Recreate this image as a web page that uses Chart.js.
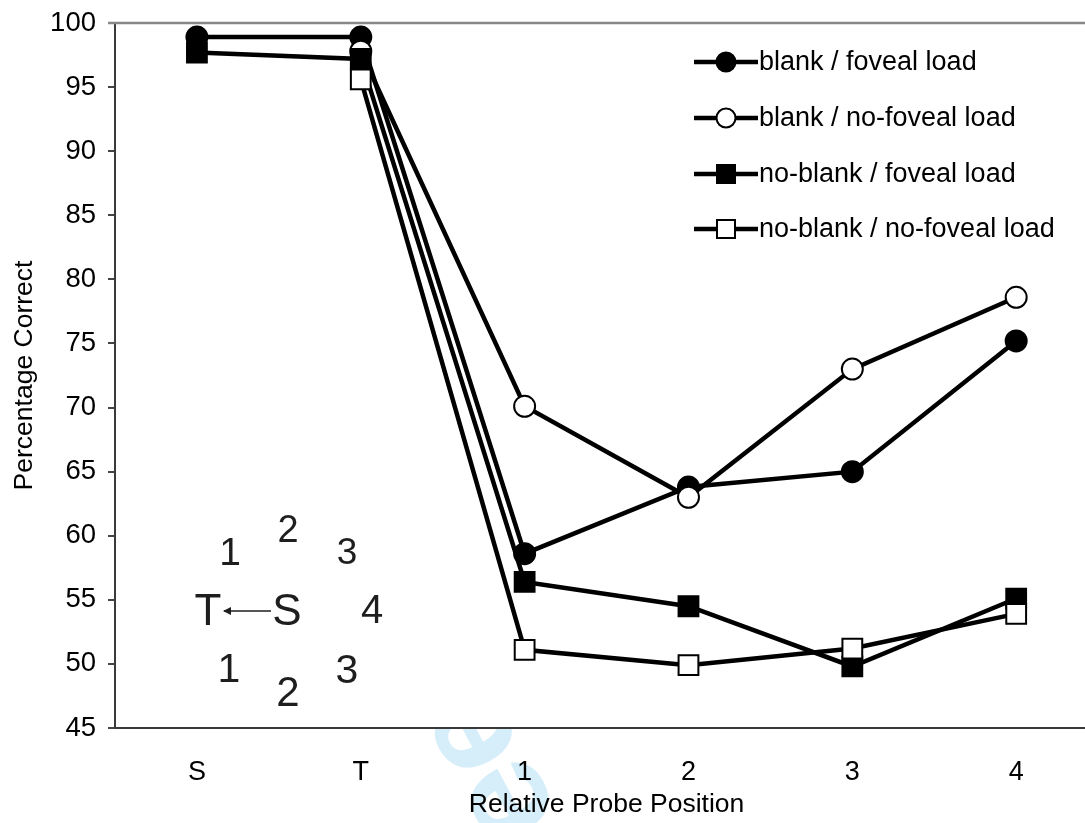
<!DOCTYPE html>
<html>
<head>
<meta charset="utf-8">
<style>
html,body{margin:0;padding:0;overflow:hidden;background:#fff;}
#wrap{width:1085px;height:823px;position:relative;}
#c{width:1085px;height:823px;display:block;}
</style>
<script src="https://cdn.jsdelivr.net/npm/chart.js@4.4.0/dist/chart.umd.min.js"></script>
</head>
<body>
<div id="wrap"><canvas id="c" width="1085" height="823"></canvas></div>
<script>
// ---- data ----
const categories = ['S', 'T', '1', '2', '3', '4'];
const seriesNames = ['blank / foveal load', 'blank / no-foveal load', 'no-blank / foveal load', 'no-blank / no-foveal load'];
const blankFoveal      = [98.9, 98.9, 58.6, 63.8, 65.0, 75.2];
const blankNoFoveal    = [null, 97.8, 70.1, 63.0, 73.0, 78.6];
const noBlankFoveal    = [97.7, 97.2, 56.4, 54.5, 49.8, 55.1];
const noBlankNoFoveal  = [null, 95.6, 51.1, 49.9, 51.2, 53.9];
const yMin = 45, yMax = 100, yStep = 5;
// the original plot area is cut off at the right edge: visible x range in category units
const xMin = -0.5, xMax = 5.42;
const xTitle = 'Relative Probe Position';
const yTitle = 'Percentage Correct';
// inset diagram labels
const insetLabels = [
  {t:'1', x:230, y:553, s:39}, {t:'2', x:288, y:531, s:38}, {t:'3', x:347, y:553, s:37},
  {t:'T', x:208, y:612, s:44}, {t:'S', x:287, y:612, s:44}, {t:'4', x:372, y:611, s:40},
  {t:'1', x:229, y:670, s:41}, {t:'2', x:288, y:693, s:42}, {t:'3', x:347, y:671, s:41}
];

const FONT = 'Liberation Sans, Arial, sans-serif';

function toPoints(arr) { return categories.map((c, i) => ({ x: i, y: arr[i] })); }

function ds(label, data, style, filled, order) {
  const r = style === 'circle' ? 10.5 : 14;
  return {
    label, data: toPoints(data), order,
    borderColor: '#000', borderWidth: 4.5,
    pointStyle: style, pointRadius: r, pointHoverRadius: r,
    pointBackgroundColor: filled ? '#000' : '#fff',
    pointBorderColor: '#000', pointBorderWidth: 2,
    tension: 0, spanGaps: false, fill: false
  };
}

const legendPlugin = {
  id: 'customLegend',
  afterDraw(chart) {
    const ctx = chart.ctx;
    const rows = [62, 118, 174, 229];
    ctx.save();
    chart.data.datasets.forEach((d, i) => {
      const y = rows[i];
      ctx.strokeStyle = '#000'; ctx.lineWidth = 4.5;
      ctx.beginPath(); ctx.moveTo(694, y); ctx.lineTo(758, y); ctx.stroke();
      ctx.fillStyle = d.pointBackgroundColor; ctx.lineWidth = 2; ctx.strokeStyle = '#000';
      if (d.pointStyle === 'circle') {
        ctx.beginPath(); ctx.arc(726, y, 9.5, 0, Math.PI * 2); ctx.fill(); ctx.stroke();
      } else {
        ctx.beginPath(); ctx.rect(717, y - 9, 18, 18); ctx.fill(); ctx.stroke();
      }
      ctx.fillStyle = '#000'; ctx.font = '27px ' + FONT;
      ctx.textAlign = 'left'; ctx.textBaseline = 'middle';
      ctx.fillText(d.label, 759, y + 1);
    });
    ctx.restore();
  }
};

const decorPlugin = {
  id: 'decor',
  beforeDraw(chart) {
    const ctx = chart.ctx;
    const a = chart.chartArea;
    ctx.save();
    ctx.fillStyle = '#fff'; ctx.fillRect(0, 0, chart.width, chart.height);
    // faint watermark, visible only below the plot area
    ctx.beginPath(); ctx.rect(0, a.bottom + 1, chart.width, chart.height - a.bottom); ctx.clip();
    ctx.fillStyle = '#d5eefa';
    ctx.font = 'bold 140px ' + FONT;
    ctx.translate(605, 900);
    ctx.rotate(-2.06);
    ctx.textBaseline = 'alphabetic';
    ctx.fillText('Pee', 0, 0);
    ctx.restore();
  },
  beforeDatasetsDraw(chart) {
    const ctx = chart.ctx;
    const a = chart.chartArea;
    ctx.save();
    ctx.fillStyle = '#1e1e1e';
    ctx.textAlign = 'center'; ctx.textBaseline = 'middle';
    insetLabels.forEach(l => { ctx.font = l.s + 'px ' + FONT; ctx.fillText(l.t, l.x, l.y + 1); });
    // arrow S -> T
    ctx.strokeStyle = '#1e1e1e'; ctx.lineWidth = 1.6;
    ctx.beginPath(); ctx.moveTo(271, 611); ctx.lineTo(224, 611); ctx.stroke();
    ctx.beginPath(); ctx.moveTo(223, 611); ctx.lineTo(231, 607); ctx.lineTo(231, 615); ctx.closePath();
    ctx.fillStyle = '#1e1e1e'; ctx.fill();
    // top frame line
    ctx.strokeStyle = '#888'; ctx.lineWidth = 2.5;
    ctx.beginPath(); ctx.moveTo(108, a.top); ctx.lineTo(chart.width, a.top); ctx.stroke();
    // x-axis title, centred on the full (uncropped) plot width
    const xs = chart.scales.x;
    const cx = (xs.getPixelForValue(-0.5) + xs.getPixelForValue(categories.length - 0.5)) / 2;
    ctx.fillStyle = '#000'; ctx.font = '26.5px ' + FONT;
    ctx.textAlign = 'center'; ctx.textBaseline = 'middle';
    ctx.fillText(xTitle, cx, 805);
    ctx.restore();
  }
};

new Chart(document.getElementById('c'), {
  type: 'line',
  data: {
    datasets: [
      ds(seriesNames[0], blankFoveal, 'circle', true, 4),
      ds(seriesNames[1], blankNoFoveal, 'circle', false, 3),
      ds(seriesNames[2], noBlankFoveal, 'rect', true, 2),
      ds(seriesNames[3], noBlankNoFoveal, 'rect', false, 1)
    ]
  },
  options: {
    responsive: false,
    animation: false,
    devicePixelRatio: 1,
    layout: { autoPadding: false, padding: { top: 23, right: 0, left: 0, bottom: 0 } },
    plugins: { legend: { display: false }, tooltip: { enabled: false } },
    scales: {
      x: {
        type: 'linear',
        min: xMin, max: xMax,
        grid: { display: false, drawTicks: false },
        border: { display: true, color: '#3a3a3a', width: 2 },
        afterBuildTicks(s) { s.ticks = categories.map((c, i) => ({ value: i })); },
        ticks: {
          color: '#000', font: { family: FONT, size: 27 }, padding: 28, maxRotation: 0, autoSkip: false,
          callback: (v) => categories[v] !== undefined ? categories[v] : ''
        },
        title: { display: false },
        afterFit(s) { s.height = 95; s.paddingLeft = 0; s.paddingRight = 0; }
      },
      y: {
        min: yMin, max: yMax,
        ticks: { stepSize: yStep, color: '#000', font: { family: FONT, size: 27.5 }, padding: 12 },
        grid: { drawOnChartArea: false, drawTicks: true, tickLength: 7, color: '#444', lineWidth: 2 },
        border: { display: true, color: '#3a3a3a', width: 2 },
        title: { display: true, text: yTitle, color: '#000', font: { family: FONT, size: 26.5 }, padding: { top: 9, bottom: 0 } },
        afterFit(s) { s.width = 115; s.paddingTop = 0; s.paddingBottom = 0; }
      }
    }
  },
  plugins: [decorPlugin, legendPlugin]
});
</script>
</body>
</html>
